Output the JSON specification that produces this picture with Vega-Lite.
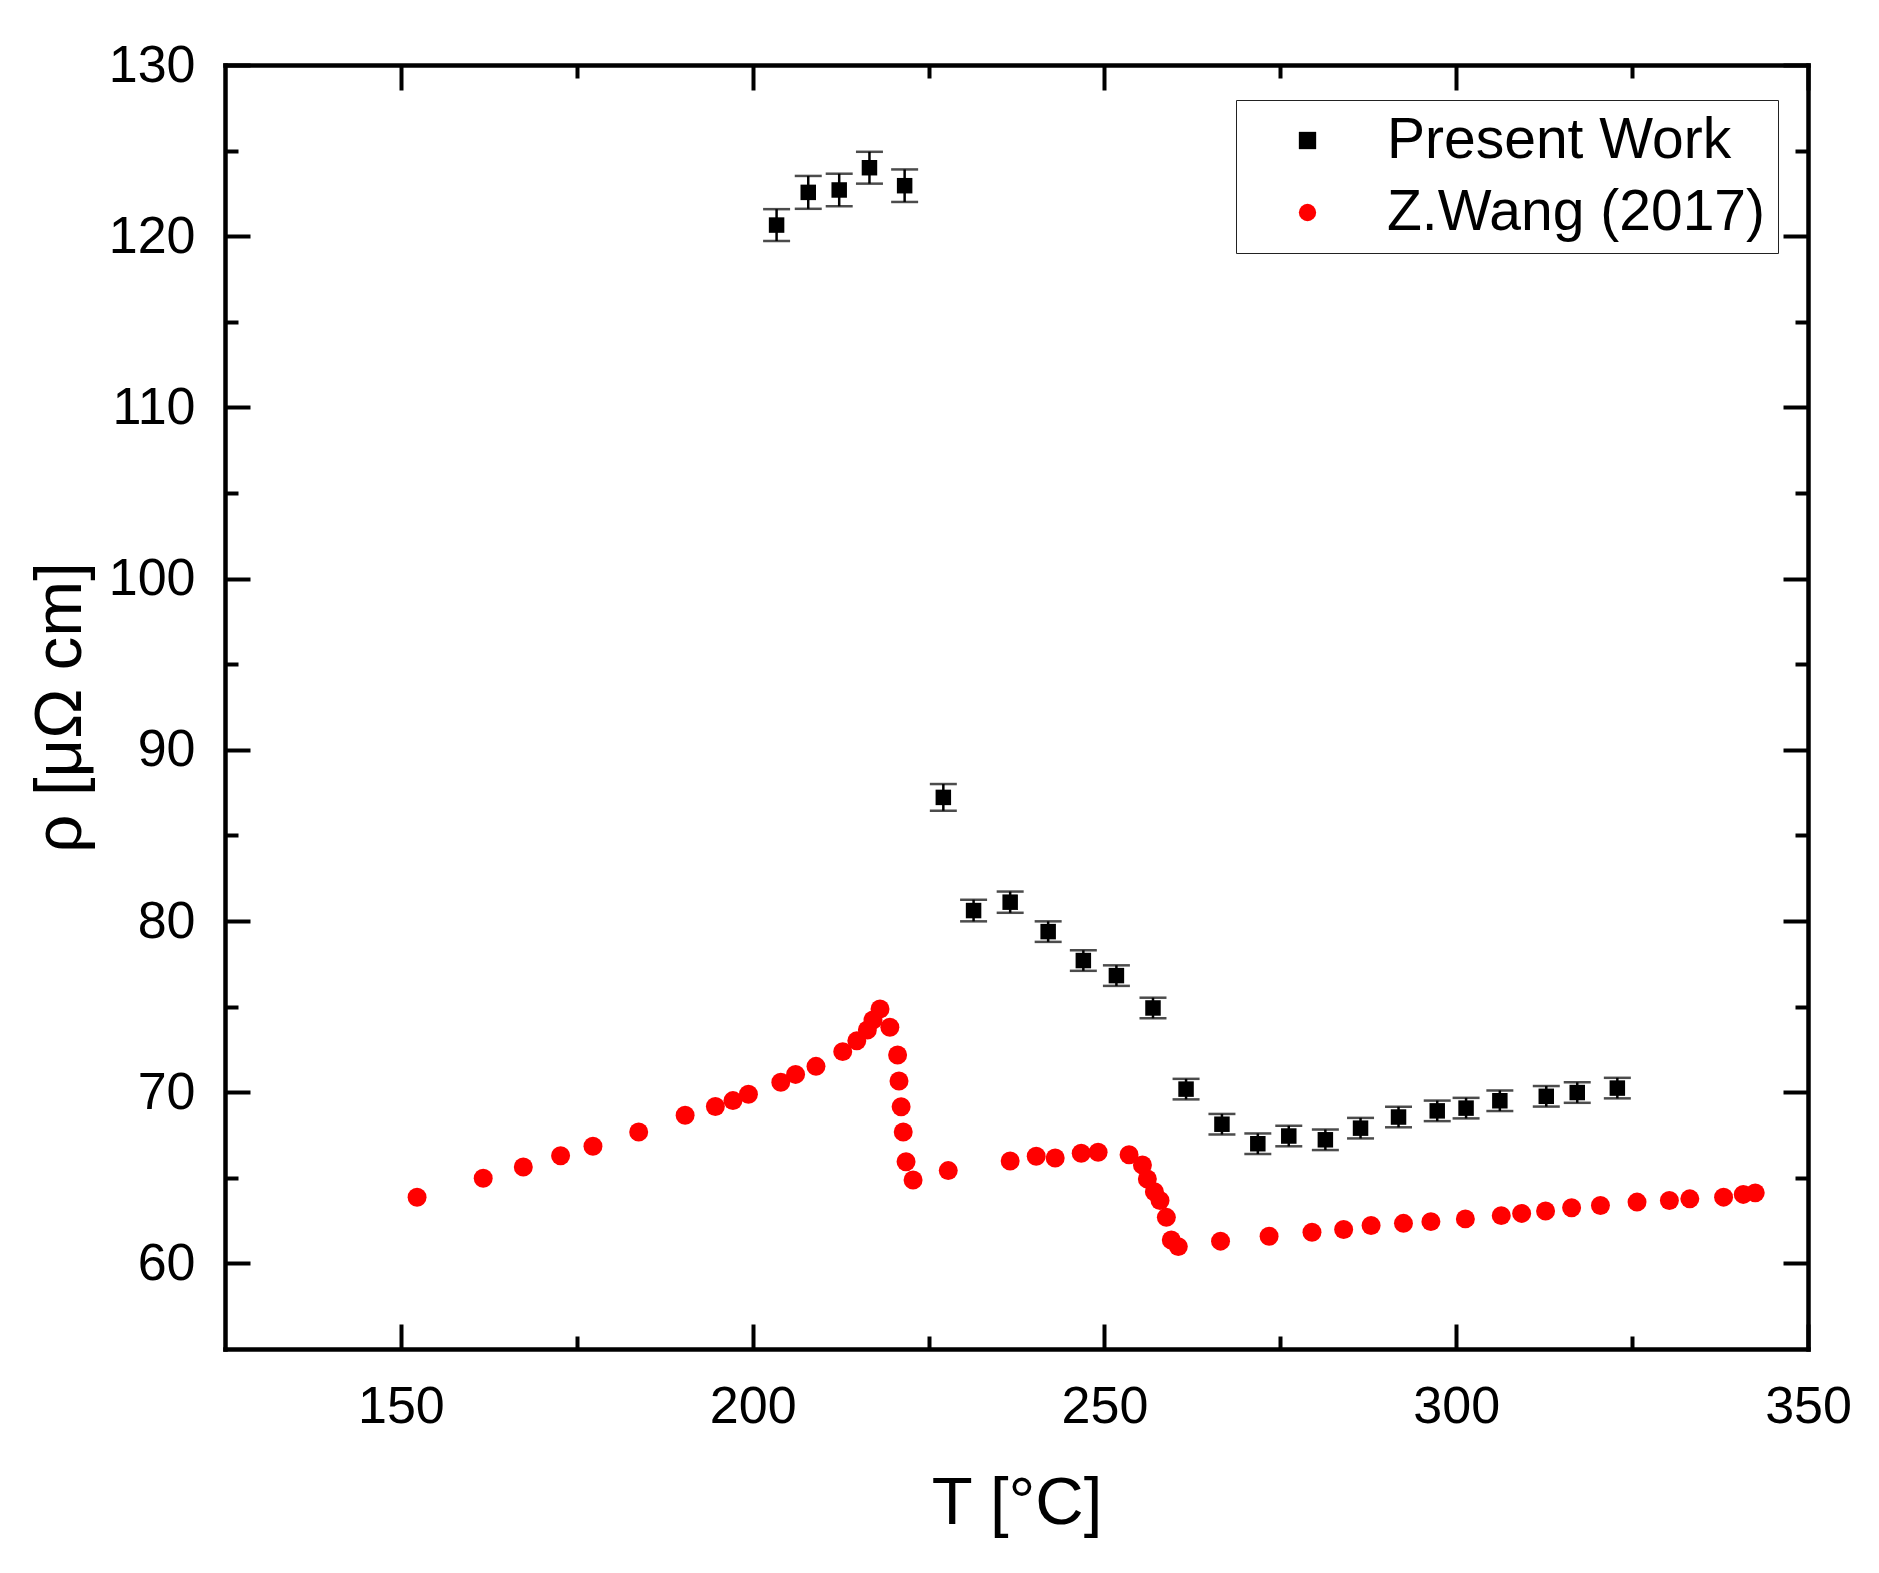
{
  "$schema": "https://vega.github.io/schema/vega-lite/v6.json",
  "description": "Resistivity vs temperature: present work with error bars and Z.Wang (2017).",
  "width": 1583,
  "height": 1284,
  "autosize": {"type": "none"},
  "padding": {"left": 225, "top": 65, "right": 71, "bottom": 224},
  "background": "white",
  "datasets": {
    "present": [
      {"T": 203.4, "rho": 120.65, "err": 0.93, "series": "Present Work"},
      {"T": 207.9, "rho": 122.56, "err": 0.96, "series": "Present Work"},
      {"T": 212.3, "rho": 122.70, "err": 0.95, "series": "Present Work"},
      {"T": 216.6, "rho": 124.00, "err": 0.93, "series": "Present Work"},
      {"T": 221.6, "rho": 122.95, "err": 0.95, "series": "Present Work"},
      {"T": 227.1, "rho": 87.22, "err": 0.78, "series": "Present Work"},
      {"T": 231.4, "rho": 80.61, "err": 0.63, "series": "Present Work"},
      {"T": 236.6, "rho": 81.10, "err": 0.62, "series": "Present Work"},
      {"T": 242.0, "rho": 79.38, "err": 0.60, "series": "Present Work"},
      {"T": 247.0, "rho": 77.69, "err": 0.60, "series": "Present Work"},
      {"T": 251.7, "rho": 76.81, "err": 0.60, "series": "Present Work"},
      {"T": 256.9, "rho": 74.92, "err": 0.60, "series": "Present Work"},
      {"T": 261.6, "rho": 70.18, "err": 0.60, "series": "Present Work"},
      {"T": 266.7, "rho": 68.13, "err": 0.60, "series": "Present Work"},
      {"T": 271.8, "rho": 66.99, "err": 0.60, "series": "Present Work"},
      {"T": 276.2, "rho": 67.44, "err": 0.60, "series": "Present Work"},
      {"T": 281.4, "rho": 67.22, "err": 0.60, "series": "Present Work"},
      {"T": 286.4, "rho": 67.90, "err": 0.60, "series": "Present Work"},
      {"T": 291.8, "rho": 68.55, "err": 0.60, "series": "Present Work"},
      {"T": 297.3, "rho": 68.91, "err": 0.60, "series": "Present Work"},
      {"T": 301.4, "rho": 69.07, "err": 0.60, "series": "Present Work"},
      {"T": 306.2, "rho": 69.50, "err": 0.60, "series": "Present Work"},
      {"T": 312.8, "rho": 69.76, "err": 0.60, "series": "Present Work"},
      {"T": 317.2, "rho": 69.98, "err": 0.60, "series": "Present Work"},
      {"T": 322.9, "rho": 70.24, "err": 0.60, "series": "Present Work"}
    ],
    "wang": [
      {"T": 152.3, "rho": 63.86, "series": "Z.Wang (2017)"},
      {"T": 161.7, "rho": 64.97, "series": "Z.Wang (2017)"},
      {"T": 167.4, "rho": 65.63, "series": "Z.Wang (2017)"},
      {"T": 172.7, "rho": 66.29, "series": "Z.Wang (2017)"},
      {"T": 177.3, "rho": 66.84, "series": "Z.Wang (2017)"},
      {"T": 183.8, "rho": 67.68, "series": "Z.Wang (2017)"},
      {"T": 190.4, "rho": 68.65, "series": "Z.Wang (2017)"},
      {"T": 194.7, "rho": 69.16, "series": "Z.Wang (2017)"},
      {"T": 197.2, "rho": 69.51, "series": "Z.Wang (2017)"},
      {"T": 199.4, "rho": 69.88, "series": "Z.Wang (2017)"},
      {"T": 204.0, "rho": 70.58, "series": "Z.Wang (2017)"},
      {"T": 206.1, "rho": 71.04, "series": "Z.Wang (2017)"},
      {"T": 209.0, "rho": 71.51, "series": "Z.Wang (2017)"},
      {"T": 212.8, "rho": 72.37, "series": "Z.Wang (2017)"},
      {"T": 214.8, "rho": 73.00, "series": "Z.Wang (2017)"},
      {"T": 216.3, "rho": 73.63, "series": "Z.Wang (2017)"},
      {"T": 217.1, "rho": 74.22, "series": "Z.Wang (2017)"},
      {"T": 218.1, "rho": 74.86, "series": "Z.Wang (2017)"},
      {"T": 219.5, "rho": 73.79, "series": "Z.Wang (2017)"},
      {"T": 220.6, "rho": 72.17, "series": "Z.Wang (2017)"},
      {"T": 220.8, "rho": 70.65, "series": "Z.Wang (2017)"},
      {"T": 221.1, "rho": 69.15, "series": "Z.Wang (2017)"},
      {"T": 221.4, "rho": 67.68, "series": "Z.Wang (2017)"},
      {"T": 221.8, "rho": 65.94, "series": "Z.Wang (2017)"},
      {"T": 222.8, "rho": 64.87, "series": "Z.Wang (2017)"},
      {"T": 227.8, "rho": 65.42, "series": "Z.Wang (2017)"},
      {"T": 236.6, "rho": 65.98, "series": "Z.Wang (2017)"},
      {"T": 240.3, "rho": 66.26, "series": "Z.Wang (2017)"},
      {"T": 243.0, "rho": 66.16, "series": "Z.Wang (2017)"},
      {"T": 246.7, "rho": 66.43, "series": "Z.Wang (2017)"},
      {"T": 249.1, "rho": 66.49, "series": "Z.Wang (2017)"},
      {"T": 253.5, "rho": 66.35, "series": "Z.Wang (2017)"},
      {"T": 255.4, "rho": 65.75, "series": "Z.Wang (2017)"},
      {"T": 256.1, "rho": 64.93, "series": "Z.Wang (2017)"},
      {"T": 257.1, "rho": 64.19, "series": "Z.Wang (2017)"},
      {"T": 257.9, "rho": 63.67, "series": "Z.Wang (2017)"},
      {"T": 258.8, "rho": 62.69, "series": "Z.Wang (2017)"},
      {"T": 259.5, "rho": 61.37, "series": "Z.Wang (2017)"},
      {"T": 260.5, "rho": 60.98, "series": "Z.Wang (2017)"},
      {"T": 266.5, "rho": 61.30, "series": "Z.Wang (2017)"},
      {"T": 273.4, "rho": 61.59, "series": "Z.Wang (2017)"},
      {"T": 279.5, "rho": 61.82, "series": "Z.Wang (2017)"},
      {"T": 284.0, "rho": 61.98, "series": "Z.Wang (2017)"},
      {"T": 287.9, "rho": 62.21, "series": "Z.Wang (2017)"},
      {"T": 292.5, "rho": 62.34, "series": "Z.Wang (2017)"},
      {"T": 296.4, "rho": 62.44, "series": "Z.Wang (2017)"},
      {"T": 301.3, "rho": 62.60, "series": "Z.Wang (2017)"},
      {"T": 306.4, "rho": 62.79, "series": "Z.Wang (2017)"},
      {"T": 309.3, "rho": 62.92, "series": "Z.Wang (2017)"},
      {"T": 312.7, "rho": 63.06, "series": "Z.Wang (2017)"},
      {"T": 316.4, "rho": 63.25, "series": "Z.Wang (2017)"},
      {"T": 320.5, "rho": 63.38, "series": "Z.Wang (2017)"},
      {"T": 325.7, "rho": 63.58, "series": "Z.Wang (2017)"},
      {"T": 330.3, "rho": 63.67, "series": "Z.Wang (2017)"},
      {"T": 333.2, "rho": 63.77, "series": "Z.Wang (2017)"},
      {"T": 338.0, "rho": 63.87, "series": "Z.Wang (2017)"},
      {"T": 340.8, "rho": 64.03, "series": "Z.Wang (2017)"},
      {"T": 342.5, "rho": 64.12, "series": "Z.Wang (2017)"}
    ]
  },
  "layer": [
    {
      "data": {"name": "present"},
      "mark": {"type": "errorbar", "color": "black", "thickness": 2.5, "ticks": {"size": 27, "thickness": 2.5, "color": "black"}},
      "encoding": {
        "x": {"field": "T", "type": "quantitative", "scale": {"domain": [125, 350], "nice": false, "zero": false}, "axis": null},
        "y": {"field": "rho", "type": "quantitative", "scale": {"domain": [55, 130], "nice": false, "zero": false}, "axis": null},
        "yError": {"field": "err"}
      }
    },
    {
      "data": {"name": "wang"},
      "mark": {"type": "point", "filled": true, "opacity": 1, "strokeWidth": 0},
      "encoding": {
        "x": {
          "field": "T", "type": "quantitative",
          "scale": {"domain": [125, 350], "nice": false, "zero": false},
          "axis": {
            "orient": "bottom",
            "values": [150, 175, 200, 225, 250, 275, 300, 325, 350],
            "labelExpr": "datum.value % 50 === 0 ? datum.label : ''",
            "tickSize": {"condition": {"test": "datum.value % 50 === 0", "value": -25}, "value": -13},
            "labelPadding": 57,
            "title": "T [°C]",
            "titlePadding": 26
          }
        },
        "y": {
          "field": "rho", "type": "quantitative",
          "scale": {"domain": [55, 130], "nice": false, "zero": false},
          "axis": {
            "orient": "left",
            "values": [60, 65, 70, 75, 80, 85, 90, 95, 100, 105, 110, 115, 120, 125, 130],
            "labelExpr": "datum.value % 10 === 0 ? datum.label : ''",
            "tickSize": {"condition": {"test": "datum.value % 10 === 0", "value": -25}, "value": -13},
            "labelPadding": 55,
            "title": "ρ [μΩ cm]",
            "titlePadding": 14
          }
        },
        "color": {
          "field": "series", "type": "nominal",
          "scale": {"domain": ["Present Work", "Z.Wang (2017)"], "range": ["#000000", "#ff0000"]},
          "legend": {
            "orient": "none", "legendX": 1011, "legendY": 35, "title": null,
            "padding": 12, "rowPadding": 14, "labelFontSize": 57, "labelFont": "Liberation Sans", "labelColor": "black",
            "symbolOffset": 31, "labelOffset": 51, "strokeColor": "#222222",
            "symbolStrokeWidth": 0, "fillColor": "white", "labelLimit": 600
          }
        },
        "shape": {"field": "series", "type": "nominal", "scale": {"domain": ["Present Work", "Z.Wang (2017)"], "range": ["square", "circle"]}}
      }
    },
    {
      "data": {"name": "present"},
      "mark": {"type": "point", "filled": true, "opacity": 1, "strokeWidth": 0, "size": 240},
      "encoding": {
        "x": {
          "field": "T", "type": "quantitative",
          "scale": {"domain": [125, 350], "nice": false, "zero": false},
          "axis": {
            "orient": "top", "labels": false, "title": null,
            "values": [150, 175, 200, 225, 250, 275, 300, 325, 350],
            "tickSize": {"condition": {"test": "datum.value % 50 === 0", "value": -25}, "value": -13}
          }
        },
        "y": {
          "field": "rho", "type": "quantitative",
          "scale": {"domain": [55, 130], "nice": false, "zero": false},
          "axis": {
            "orient": "right", "labels": false, "title": null,
            "values": [60, 65, 70, 75, 80, 85, 90, 95, 100, 105, 110, 115, 120, 125, 130],
            "tickSize": {"condition": {"test": "datum.value % 10 === 0", "value": -25}, "value": -13}
          }
        },
        "color": {"field": "series", "type": "nominal"},
        "shape": {"field": "series", "type": "nominal"}
      }
    }
  ],
  "resolve": {"axis": {"x": "independent", "y": "independent"}},
  "config": {
    "font": "Liberation Sans",
    "view": {"stroke": null},
    "point": {"size": 360},
    "legend": {"symbolSize": 300},
    "axis": {
      "grid": false,
      "domainColor": "black",
      "domainWidth": 4.5,
      "domainCap": "square",
      "tickColor": "black",
      "tickWidth": 4,
      "labelFont": "Liberation Sans",
      "labelFontSize": 52,
      "labelColor": "black",
      "labelFlush": false,
      "labelOverlap": false,
      "titleFont": "Liberation Sans",
      "titleFontSize": 67,
      "titleFontWeight": "normal",
      "titleColor": "black"
    }
  }
}
